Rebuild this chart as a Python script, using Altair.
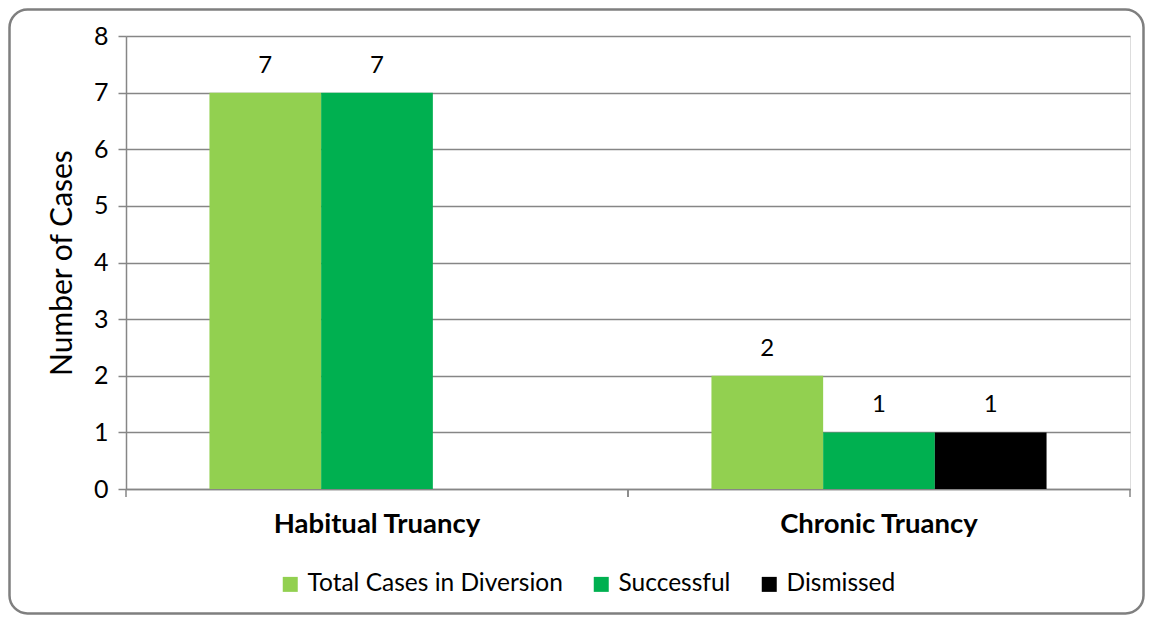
import altair as alt
import pandas as pd

categories = ["Habitual Truancy", "Chronic Truancy"]
series = ["Total Cases in Diversion", "Successful", "Dismissed"]
colors = ["#92D050", "#00B050", "#000000"]
habitual_values = [7, 7]        # Total, Successful (no Dismissed bar)
chronic_values = [2, 1, 1]      # Total, Successful, Dismissed

rows = []
for s, v in zip(series, habitual_values):
    rows.append({"cat": categories[0], "series": s, "value": v})
for s, v in zip(series, chronic_values):
    rows.append({"cat": categories[1], "series": s, "value": v})
df = pd.DataFrame(rows)

FONT = "Lato"
GRID = "#868686"
PW, PH = 1004, 453
W, H = 1137, 607
PL, PT = 118, 28

x_enc = alt.X("cat:N", sort=categories, scale=alt.Scale(paddingInner=0, paddingOuter=0),
              axis=alt.Axis(title=None, ticks=False, domain=True, domainColor=GRID, domainWidth=1.5,
                            labelFont=FONT, labelFontSize=27.5, labelFontWeight="bold", labelLimit=0,
                            labelColor="black", labelPadding=21, labelAngle=0))
xo_enc = alt.XOffset("series:N", sort=series,
                     scale=alt.Scale(domain=series, paddingInner=0, paddingOuter=0.747))
y_enc = alt.Y("value:Q", scale=alt.Scale(domain=[0, 8], nice=False),
              axis=alt.Axis(title="Number of Cases", titleFont=FONT, titleFontSize=30,
                            titleFontWeight="normal", titleColor="black", titlePadding=16,
                            values=list(range(0, 9)), format="d", grid=True, gridColor=GRID, gridWidth=1.5,
                            domain=True, domainColor=GRID, domainWidth=1.5,
                            ticks=True, tickColor=GRID, tickSize=8, tickWidth=1.5,
                            labelFont=FONT, labelFontSize=25, labelColor="black", labelPadding=10))

base = alt.Chart(df)

bars = base.mark_bar().encode(
    x=x_enc, xOffset=xo_enc, y=y_enc,
    color=alt.Color("series:N", sort=series,
                    scale=alt.Scale(domain=series, range=colors),
                    legend=alt.Legend(title=None, orient="none", direction="horizontal",
                                      legendX=152, legendY=536, symbolType="square",
                                      symbolSize=225, symbolStrokeWidth=0,
                                      labelFont=FONT, labelFontSize=24.5, labelColor="black",
                                      labelLimit=0, columnPadding=26, labelOffset=5)),
)

labels = base.mark_text(font=FONT, fontSize=24, color="black", baseline="bottom", dy=-15).encode(
    x=alt.X("cat:N", sort=categories), xOffset=alt.XOffset("series:N", sort=series),
    y=alt.Y("value:Q"), text=alt.Text("value:Q"),
)

ticks_left = alt.Chart(pd.DataFrame({"cat": categories})).mark_rule(color=GRID, strokeWidth=1.5).encode(
    x=alt.X("cat:N", sort=categories, bandPosition=0), y=alt.value(PH), y2=alt.value(PH + 8))
ticks_right = alt.Chart(pd.DataFrame({"cat": categories})).mark_rule(color=GRID, strokeWidth=1.5).encode(
    x=alt.X("cat:N", sort=categories, bandPosition=1), y=alt.value(PH), y2=alt.value(PH + 8))

frame = alt.Chart(pd.DataFrame({"a": [0]})).mark_rect(
    fill="transparent", stroke="#7f7f7f", strokeWidth=2.5, cornerRadius=18).encode(
    x=alt.value(1.5 - PL), x2=alt.value(W - 1.5 - PL),
    y=alt.value(1.5 - PT), y2=alt.value(H - 1.5 - PT))

chart = alt.layer(frame, bars, labels, ticks_left, ticks_right).properties(
    width=PW, height=PH,
    autosize=alt.AutoSizeParams(type="none"),
    padding={"left": PL, "top": PT, "right": W - PL - PW, "bottom": H - PT - PH},
).configure_view(stroke=None).configure(background="white")

chart.save("out.html", embed_options={"renderer": "svg", "actions": False})
